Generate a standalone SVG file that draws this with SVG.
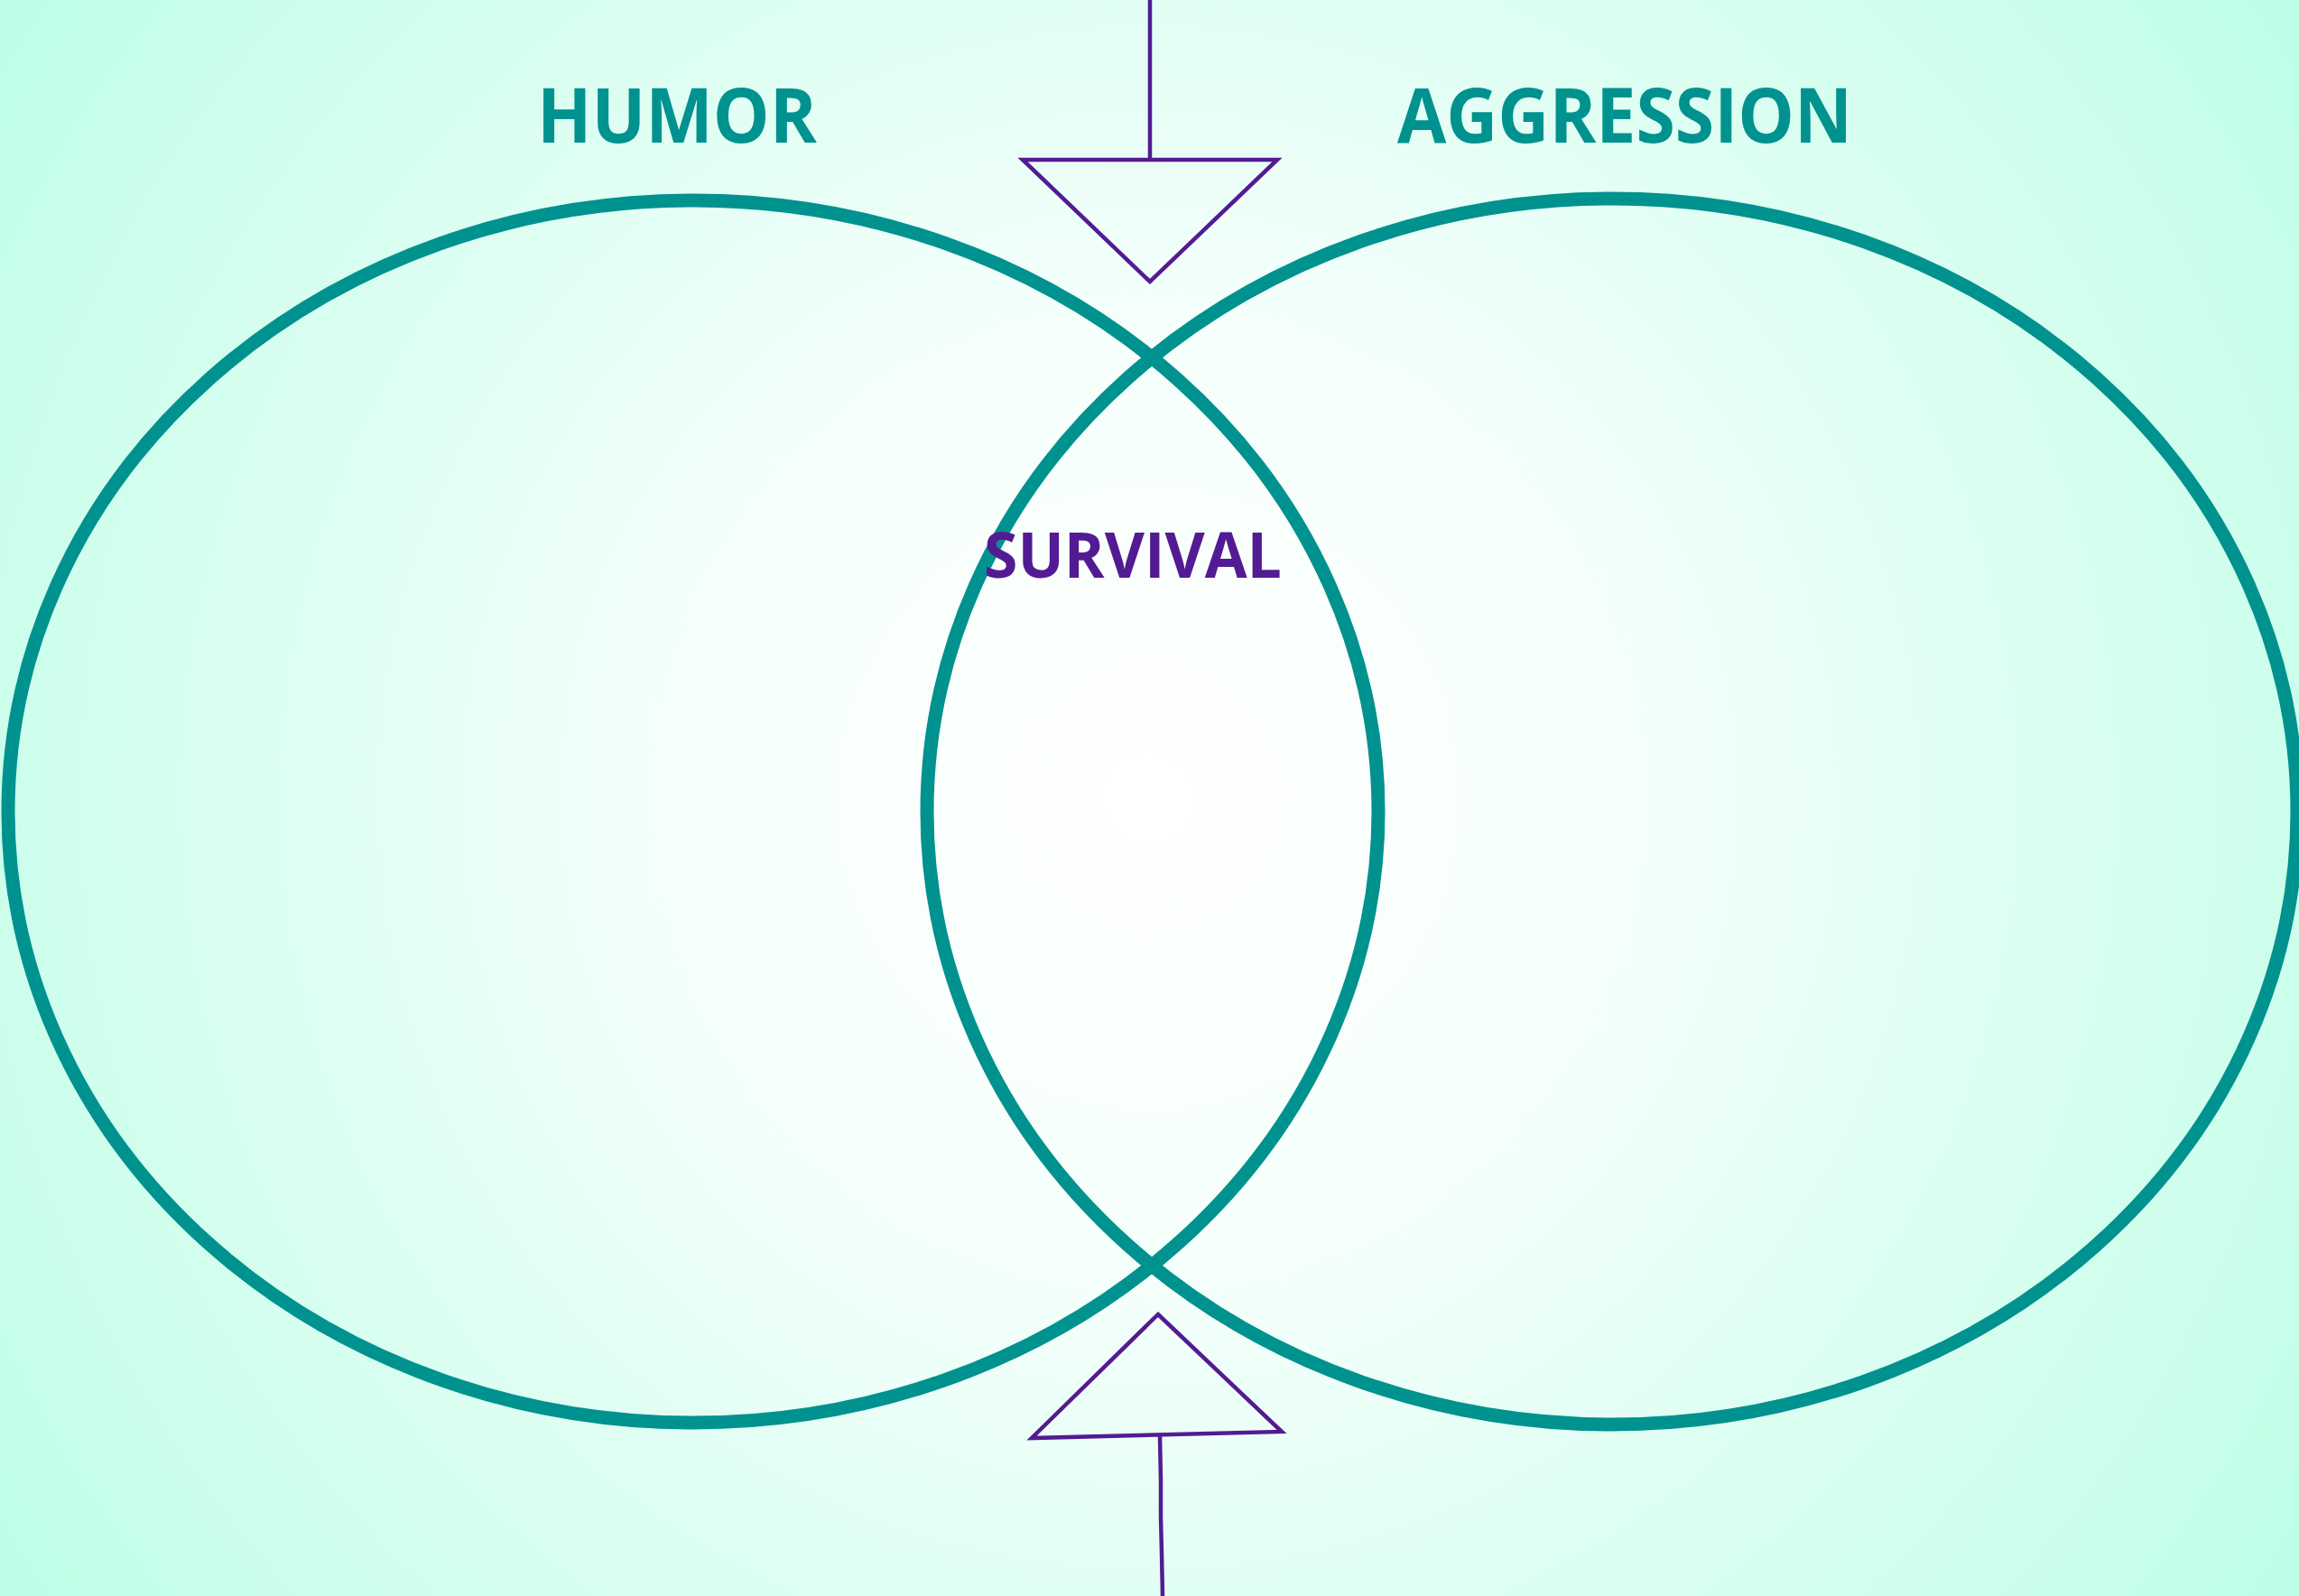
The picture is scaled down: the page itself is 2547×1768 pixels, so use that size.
<svg xmlns="http://www.w3.org/2000/svg" width="2547" height="1768" viewBox="0 0 2547 1768">
  <defs>
    <radialGradient id="bg" cx="1273" cy="884" r="1550" gradientUnits="userSpaceOnUse">
      <stop offset="0" stop-color="#FFFFFF"/>
      <stop offset="0.35" stop-color="#F4FFFB"/>
      <stop offset="1" stop-color="#BDFEE6"/>
    </radialGradient>
  </defs>
  <style>
    .ring { fill: none; stroke: #00928F; stroke-width: 15; }
    .title { font-family: "Open Sans", "Liberation Sans", sans-serif; font-weight: 700; fill: #00928F; }
    .mid { font-family: "Open Sans", "Liberation Sans", sans-serif; font-weight: 700; fill: #531B93; }
    .arrow { fill: none; stroke: #531B93; stroke-width: 4.5; stroke-linejoin: miter; }
  </style>
  <rect x="0" y="0" width="2547" height="1768" fill="url(#bg)"/>
  <g id="humor">
    <ellipse class="ring" cx="768" cy="899" rx="759" ry="677"/>
    <text class="title" x="595" y="158" font-size="84" textLength="310" lengthAdjust="spacingAndGlyphs">HUMOR</text>
  </g>
  <g id="aggression">
    <ellipse class="ring" cx="1786" cy="899" rx="759" ry="679"/>
    <text class="title" x="1548" y="158" font-size="84" textLength="504" lengthAdjust="spacingAndGlyphs">AGGRESSION</text>
  </g>
  <g id="survival">
    <text class="mid" x="1090" y="640" font-size="70" textLength="330" lengthAdjust="spacingAndGlyphs">SURVIVAL</text>
  </g>
  <g id="connectors">
    <line class="arrow" x1="1274" y1="0" x2="1274" y2="177"/>
    <polygon class="arrow" points="1133,177 1415,177 1274,312"/>
    <polygon class="arrow" points="1283,1456 1420,1586 1143,1593"/>
    <polyline class="arrow" points="1285,1590 1286,1640 1286,1680 1287,1720 1288,1768"/>
  </g>
</svg>
